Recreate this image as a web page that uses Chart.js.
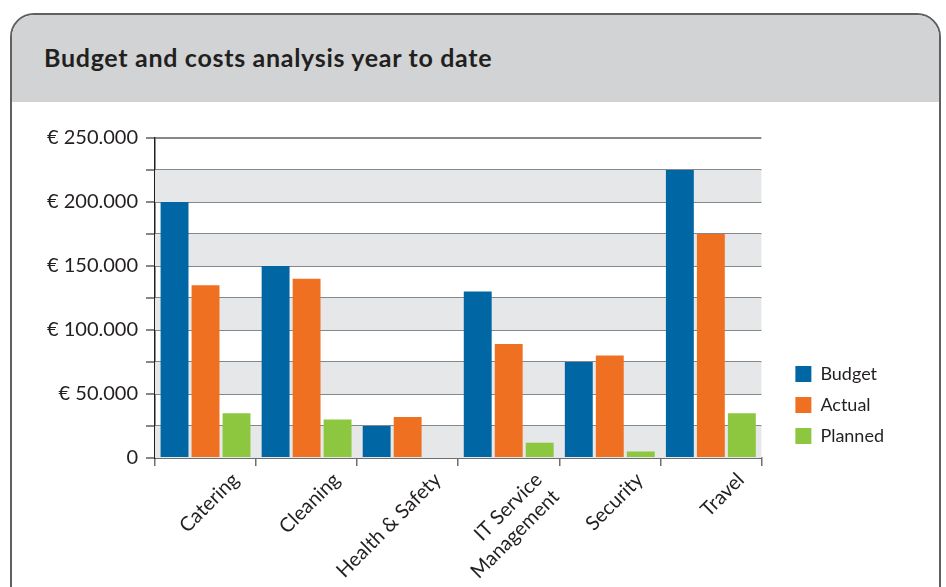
<!DOCTYPE html>
<html>
<head>
<meta charset="utf-8">
<script src="https://cdn.jsdelivr.net/npm/chart.js@4"></script>
<style>
  html, body { margin: 0; padding: 0; background: #fff; }
  body { width: 946px; height: 587px; position: relative; overflow: hidden; font-family: Lato, sans-serif; }
  .card {
    position: absolute; left: 10px; top: 13px; width: 927px; height: 640px;
    border: 2px solid #5f6062; border-radius: 24px; overflow: hidden; background: #fff;
  }
  .card-head { height: 87px; background: #d1d3d4; }
  .card-head h1 {
    margin: 0; padding: 27px 0 0 32px; font-size: 25px; letter-spacing: 0.7px;
    font-weight: bold; color: #231f20;
  }
  #wrap { position: absolute; left: 0; top: 102px; width: 946px; height: 485px; }
</style>
</head>
<body>
<div class="card"><div class="card-head"><h1>Budget and costs analysis year to date</h1></div></div>
<div id="wrap"><canvas id="costChart" width="946" height="485"></canvas></div>
<script>
const categories = ['Catering', 'Cleaning', 'Health & Safety', ['IT Service', 'Management'], 'Security', 'Travel'];
const budget  = [200000, 150000, 25000, 130000, 75000, 225000];
const actual  = [135000, 140000, 32000, 89000, 80000, 175000];
const planned = [35000, 30000, 0, 12000, 5000, 35000];

const TEXT = '#231f20';
const FONT = 'Lato, sans-serif';

function euro(v) {
  if (v === 0) return '0';
  return '\u20ac ' + String(v).replace(/\B(?=(\d{3})+(?!\d))/g, '.');
}

// alternating grey bands behind the bars
const bands = {
  id: 'bands',
  beforeDatasetsDraw(chart) {
    const { ctx, chartArea: a, scales: { y } } = chart;
    ctx.save();
    ctx.fillStyle = '#e6e7e8';
    for (let v = 0; v < y.max; v += 50000) {
      const top = y.getPixelForValue(v + 25000);
      const bottom = y.getPixelForValue(v);
      ctx.fillRect(a.left, top, a.right - a.left, bottom - top);
    }
    ctx.restore();
  }
};

new Chart(document.getElementById('costChart'), {
  type: 'bar',
  data: {
    labels: categories,
    datasets: [
      { label: 'Budget', data: budget, backgroundColor: '#0066a4' },
      { label: 'Actual', data: actual, backgroundColor: '#f07022' },
      { label: 'Planned', data: planned, backgroundColor: '#8dc63f' }
    ]
  },
  options: {
    responsive: false,
    animation: false,
    devicePixelRatio: 1,
    layout: { padding: { left: 0, top: 36, right: 52, bottom: 0 } },
    datasets: { bar: { categoryPercentage: 0.92, barPercentage: 0.9 } },
    plugins: {
      tooltip: { enabled: false },
      legend: {
        position: 'right',
        align: 'end',
        fullSize: false,
        labels: {
          boxWidth: 16, boxHeight: 16, padding: 13,
          color: TEXT, font: { family: FONT, size: 18 }
        }
      }
    },
    scales: {
      x: {
        grid: { drawOnChartArea: false, drawTicks: true, tickLength: 8, color: '#6d6e70', lineWidth: 1.5 },
        border: { color: '#6d6e70', width: 2 },
        ticks: {
          color: TEXT, font: { family: FONT, size: 20 },
          maxRotation: 45, minRotation: 45, labelOffset: 30, padding: 2
        },
        afterFit(s) { s.height = 129; }
      },
      y: {
        min: 0, max: 250000,
        grid: { color: '#86878a', lineWidth: 2, tickLength: 9 },
        border: { color: TEXT, width: 1.5 },
        ticks: {
          stepSize: 25000, padding: 8, color: TEXT, font: { family: FONT, size: 20 },
          callback: v => (v % 50000 === 0 ? euro(v) : '')
        },
        afterFit(s) { s.width = 155; }
      },
      gap: {
        position: 'right',
        grid: { display: false },
        border: { display: false },
        ticks: { display: false },
        afterFit(s) { s.width = 21; }
      }
    }
  },
  plugins: [bands]
});
</script>
</body>
</html>
